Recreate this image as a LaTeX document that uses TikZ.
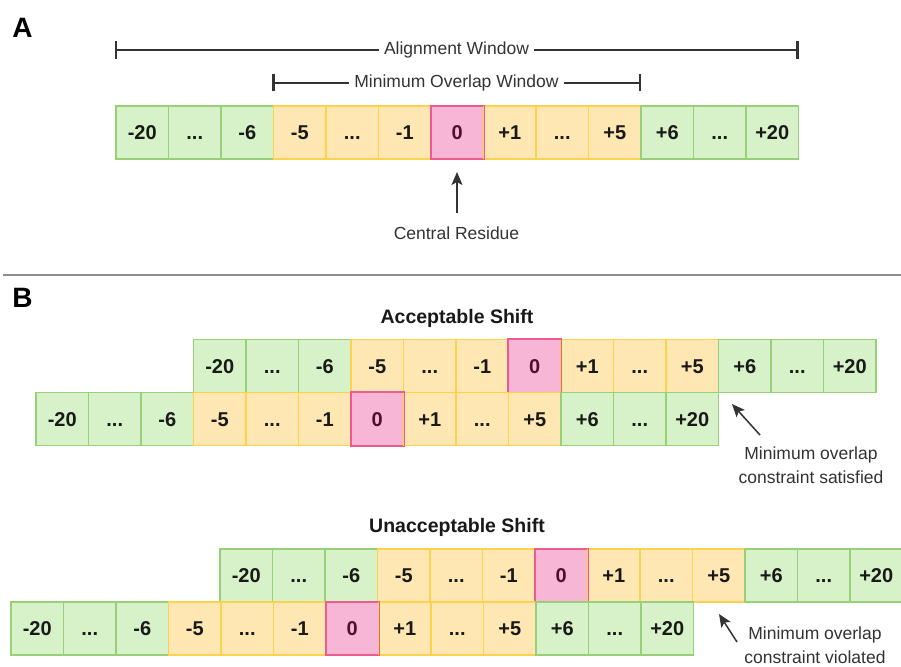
\documentclass[tikz,border=0pt]{standalone}
\usepackage{fontspec}
\setmainfont{Liberation Sans}
\usetikzlibrary{arrows.meta}
\definecolor{gfill}{HTML}{D7F2C9}
\definecolor{gline}{HTML}{97D077}
\definecolor{yfill}{HTML}{FFE7B3}
\definecolor{yline}{HTML}{FFD24D}
\definecolor{pfill}{HTML}{F8B6D6}
\definecolor{pline}{HTML}{EE5C8F}
\definecolor{ptext}{HTML}{4D1030}
\definecolor{ink}{HTML}{333333}
\definecolor{sepgray}{HTML}{8C8C8C}
\newcommand{\ddd}{...}
\newcommand{\seqrow}[3]{%
  \foreach \lab/\st [count=\i] in {-20/gc,\ddd/gc,-6/gc,-5/yc,\ddd/yc,-1/yc,0/pc,+1/yc,\ddd/yc,+5/yc,+6/gc,\ddd/gc,+20/gc}{%
    \node[\st] (#1\i) at ({#2+(\i-0.5)*52.5},#3) {\lab};
  }%
  \draw[pline,line width=1.3pt] (#17.south west) rectangle (#17.north east);
}
\tikzset{
  cellbox/.style={minimum width=52.5pt, minimum height=53pt, inner sep=0pt, line width=1.3pt,
    text height=14.5pt, text depth=0pt,
    font=\fontsize{20}{24}\selectfont\bfseries, text=black!90},
  gc/.style={cellbox, fill=gfill, draw=gline},
  yc/.style={cellbox, fill=yfill, draw=yline},
  pc/.style={cellbox, fill=pfill, draw=pline, text=ptext},
  lbl/.style={font=\fontsize{17.5}{21}\selectfont, text=ink, inner xsep=5pt, inner ysep=2pt},
  ttl/.style={font=\fontsize{19.5}{23}\selectfont\bfseries, text=black!90},
  note/.style={font=\fontsize{17.5}{24}\selectfont, text=ink, align=center},
  secl/.style={font=\fontsize{28}{30}\selectfont\bfseries, text=black},
  winline/.style={draw=ink, line width=1.3pt},
  tickl/.style={draw=ink, line width=2.6pt},
  arr/.style={draw=ink, line width=1.5pt, -{Stealth[length=13pt,width=11pt,inset=3pt]}},
  sepline/.style={draw=sepgray, line width=1.6pt},
}
\begin{document}
\begin{tikzpicture}[x=1pt,y=-1pt]
\fill[white] (0,0) rectangle (901,666);
\useasboundingbox (0,0) rectangle (901,666);

% section labels
\node[secl] (la) at (22.5,28) {A};
\node[secl] (lb) at (22.5,298) {B};

% separator
\coordinate (sepl) at (3,275);
\coordinate (sepr) at (901,275);
\draw[sepline] (sepl) -- (sepr);

% ---------- A ----------
\coordinate (awl) at (116,50);
\coordinate (awr) at (797.5,50);
\node[lbl] (awt) at (456.5,50) {Alignment Window};
\draw[winline] (awl) -- (awt) -- (awr);
\draw[tickl] ([yshift=-9pt]awl) -- ([yshift=9pt]awl);
\draw[tickl] ([yshift=-9pt]awr) -- ([yshift=9pt]awr);

\coordinate (mwl) at (273.5,83);
\coordinate (mwr) at (640,83);
\node[lbl] (mwt) at (456.5,83) {Minimum Overlap Window};
\draw[winline] (mwl) -- (mwt) -- (mwr);
\draw[tickl] ([yshift=-8.5pt]mwl) -- ([yshift=8.5pt]mwl);
\draw[tickl] ([yshift=-8.5pt]mwr) -- ([yshift=8.5pt]mwr);

\seqrow{a}{116}{132.5}

\node[lbl] (cr) at (456.5,233) {Central Residue};
\coordinate (cra) at (457,213);
\coordinate (crb) at (457,172);
\draw[arr] (cra) -- (crb);

% ---------- B : acceptable ----------
\node[ttl] (acc) at (457,318) {Acceptable Shift};
\seqrow{s}{193.5}{366}
\seqrow{t}{36}{419}
\node[note] (sat) at (811,465) {Minimum overlap\\constraint satisfied};
\coordinate (sa1) at (760,435);
\coordinate (sa2) at (732,404);
\draw[arr] (sa1) -- (sa2);

% ---------- B : unacceptable ----------
\node[ttl] (unacc) at (457,527) {Unacceptable Shift};
\seqrow{u}{220}{575.5}
\seqrow{v}{11}{628.5}
\node[note] (vio) at (815,645) {Minimum overlap\\constraint violated};
\coordinate (va1) at (737,642);
\coordinate (va2) at (719,614);
\draw[arr] (va1) -- (va2);
\end{tikzpicture}
\end{document}
